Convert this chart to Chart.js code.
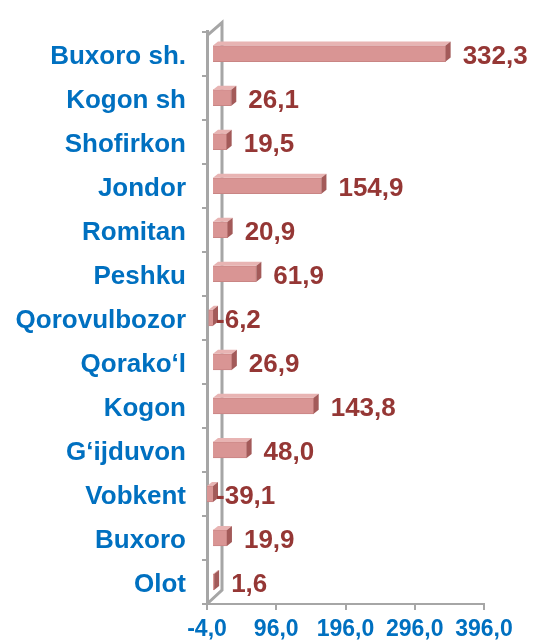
<!DOCTYPE html>
<html>
<head>
<meta charset="utf-8">
<script src="https://cdn.jsdelivr.net/npm/chart.js@4"></script>
<style>
  html, body { margin: 0; padding: 0; background: #fff; }
</style>
</head>
<body>
<canvas id="bar-chart" width="537" height="643"></canvas>
<script>
const districts = ['Buxoro sh.', 'Kogon sh', 'Shofirkon', 'Jondor', 'Romitan', 'Peshku',
   'Qorovulbozor', 'Qorako‘l', 'Kogon', 'G‘ijduvon', 'Vobkent', 'Buxoro', 'Olot'];
const growth = [332.3, 26.1, 19.5, 154.9, 20.9, 61.9, -6.2, 26.9, 143.8, 48.0, -39.1, 19.9, 1.6];
const axisTicks = [-4, 96, 196, 296, 396];

const FONT = "'Liberation Sans', Arial, sans-serif";
const fmt = v => v.toFixed(1).replace('.', ',');

// back wall + floor of the 3D frame
const frame3d = {
   id: 'frame3d',
   beforeDatasetsDraw(chart) {
      const { ctx, chartArea: a } = chart;
      ctx.save();
      ctx.strokeStyle = '#a6a6a6';
      ctx.lineWidth = 3;
      ctx.beginPath();
      ctx.moveTo(a.left, a.top + 4);
      ctx.lineTo(a.left + 15, a.top - 9);
      ctx.lineTo(a.left + 15, a.bottom - 14);
      ctx.lineTo(a.left, a.bottom);
      ctx.stroke();
      ctx.restore();
   }
};

// side and top faces of the bars, then the value labels
const bars3d = {
   id: 'bars3d',
   afterDatasetsDraw(chart) {
      const { ctx, chartArea: a } = chart;
      const meta = chart.getDatasetMeta(0);
      const dx = 5, dy = 4;
      ctx.save();
      meta.data.forEach((bar, i) => {
         const v = growth[i];
         const l = Math.max(Math.min(bar.x, bar.base), a.left);
         const r = Math.max(bar.x, bar.base);
         const t = bar.y - bar.height / 2, b = bar.y + bar.height / 2;
         ctx.fillStyle = '#e8b4b3';
         ctx.beginPath();
         ctx.moveTo(l, t); ctx.lineTo(l + dx, t - dy); ctx.lineTo(r + dx, t - dy); ctx.lineTo(r, t);
         ctx.closePath(); ctx.fill();
         ctx.fillStyle = '#a35a59';
         ctx.beginPath();
         ctx.moveTo(r, t); ctx.lineTo(r + dx, t - dy); ctx.lineTo(r + dx, b - dy); ctx.lineTo(r, b);
         ctx.closePath(); ctx.fill();

         ctx.font = 'bold 26px ' + FONT;
         ctx.fillStyle = '#953735';
         ctx.textAlign = 'left';
         ctx.textBaseline = 'middle';
         const lx = v >= 0 ? bar.x + 17 : bar.base + 3;
         ctx.fillText(fmt(v), lx, bar.y + 3);
      });
      ctx.restore();
   }
};

new Chart(document.getElementById('bar-chart'), {
   type: 'bar',
   data: {
      labels: districts,
      datasets: [{
         data: growth,
         xAxisID: 'xb',
         backgroundColor: '#d99594',
         borderColor: '#c98584',
         borderWidth: 1,
         barThickness: 16
      }]
   },
   options: {
      indexAxis: 'y',
      responsive: false,
      animation: false,
      layout: { padding: { top: 26, right: 53, left: 0, bottom: 0 } },
      plugins: {
         legend: { display: false },
         tooltip: { enabled: false }
      },
      scales: {
         x: {
            position: 'bottom',
            min: -4,
            max: 396,
            afterBuildTicks: s => { s.ticks = axisTicks.map(v => ({ value: v })); },
            afterFit: s => { s.height = 39; },
            border: { color: '#a6a6a6', width: 2 },
            grid: { drawOnChartArea: false, tickLength: 6, color: '#a6a6a6', lineWidth: 2 },
            ticks: {
               padding: 6,
               color: '#0070c0',
               font: { family: FONT, size: 23, weight: 'bold' },
               callback: v => fmt(v)
            }
         },
         // bars sit a little deeper in the 3D box, so they use their own projected scale
         xb: {
            type: 'linear',
            position: 'bottom',
            display: false,
            min: -8.6,
            max: 387.1
         },
         y: {
            afterFit: s => { s.width = 207; },
            border: { color: '#a6a6a6', width: 3 },
            grid: { drawOnChartArea: false, tickLength: 5, color: '#a6a6a6', lineWidth: 2 },
            ticks: {
               padding: 16,
               labelOffset: 3,
               color: '#0070c0',
               font: { family: FONT, size: 26, weight: 'bold' }
            }
         }
      }
   },
   plugins: [frame3d, bars3d]
});
</script>
</body>
</html>
